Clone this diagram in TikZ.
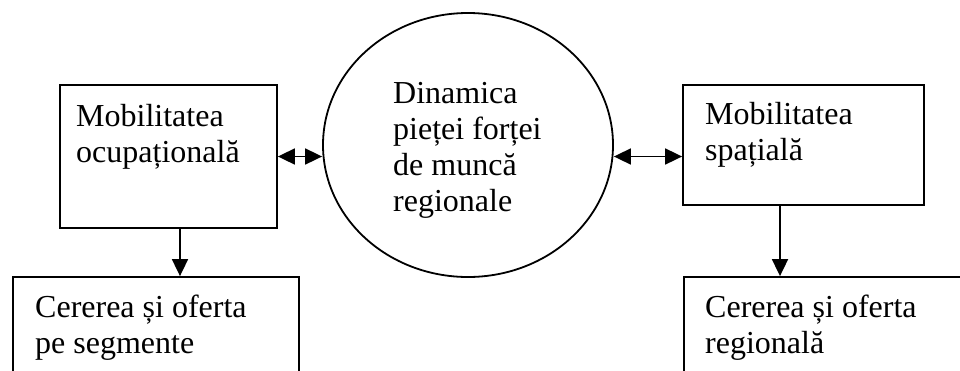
\documentclass[tikz,border=0pt]{standalone}
\usepackage{fontspec}
\setmainfont{Liberation Serif}
\usetikzlibrary{shapes}
\usetikzlibrary{arrows.meta}

\begin{document}
\begin{tikzpicture}[x=1pt,y=-1pt]
					\tikzstyle{box}=[rectangle,draw,line width=1.8pt,inner sep=0pt]
					\tikzstyle{oval}=[ellipse,draw,line width=1.8pt,inner sep=0pt]
					\tikzstyle{txt}=[inner sep=0pt,align=left,anchor=base west,font=\fontsize{32}{36}\selectfont]
					\tikzstyle{link}=[line width=1.8pt,-{Triangle[length=17pt,width=16pt]}]
					\tikzstyle{dlink}=[line width=1.8pt,{Triangle[length=17pt,width=16pt]}-{Triangle[length=17pt,width=16pt]}]

					\useasboundingbox (0,0) rectangle (960,370);
					\clip (0,0) rectangle (960,370);

					\node[oval,minimum width=290pt,minimum height=264pt] (dinamica) at (468,145) {};
					\node[box,minimum width=217pt,minimum height=143pt] (ocup) at (168.5,156.5) {};
					\node[box,minimum width=241pt,minimum height=120pt] (spatial) at (803.5,145) {};
					\node[box,minimum width=286pt,minimum height=123pt] (segm) at (156,338.5) {};
					\node[box,minimum width=316pt,minimum height=123pt] (regio) at (842,338.5) {};

					% base anchor sits on the last line
					\node[txt] (dinamicatxt) at (393,211) {Dinamica\\pieței forței\\de muncă\\regionale};
					\node[txt] (ocuptxt) at (76,162) {Mobilitatea\\ocupațională};
					\node[txt] (spatialtxt) at (705,160) {Mobilitatea\\spațială};
					\node[txt] (segmtxt) at (35,353) {Cererea și oferta\\pe segmente};
					\node[txt] (regiotxt) at (705,353) {Cererea și oferta\\regională};

					\draw[dlink] (ocup.east) -- (ocup.east -| dinamica.west);
					\draw[dlink] (dinamica.east |- ocup.east) -- (ocup.east -| spatial.west);
					\draw[link] ([xshift=11.5pt]ocup.south) -- ([xshift=11.5pt]ocup.south |- segm.north);
					\draw[link] ([xshift=-23.5pt]spatial.south) -- ([xshift=-23.5pt]spatial.south |- regio.north);
\end{tikzpicture}
\end{document}
